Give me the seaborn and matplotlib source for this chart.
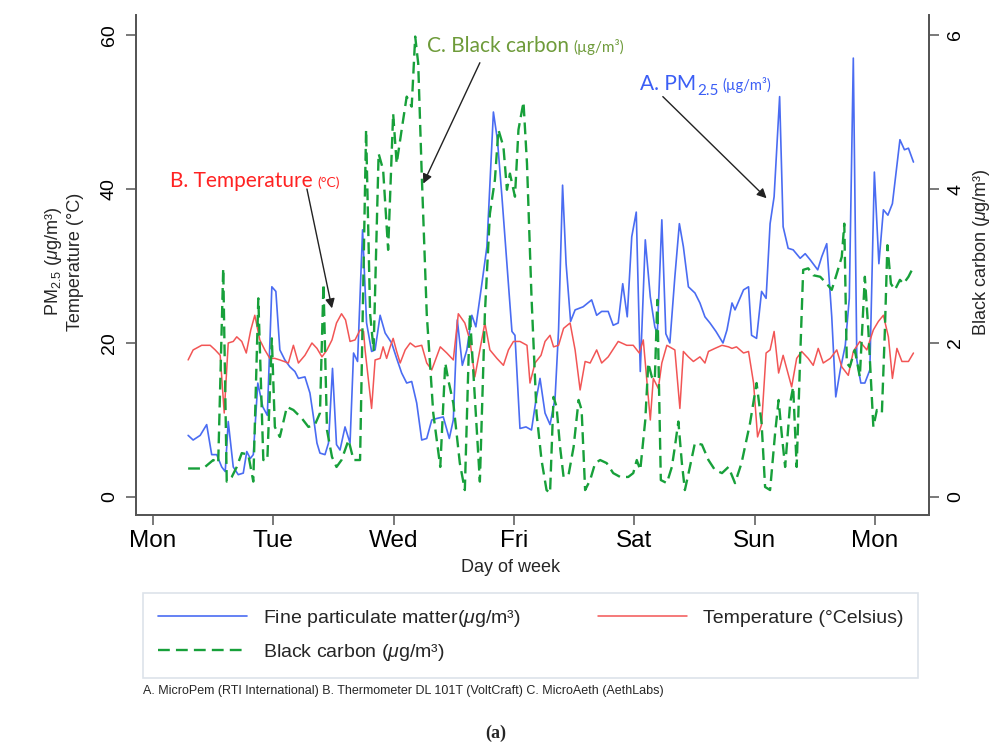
import matplotlib
matplotlib.use("Agg")
import matplotlib.pyplot as plt
import seaborn as sns
import numpy as np

# Style
sns.set_theme(style="ticks")
plt.rcParams['font.family'] = ['Liberation Sans', 'DejaVu Sans']
plt.rcParams['mathtext.fontset'] = 'custom'
plt.rcParams['mathtext.rm'] = 'Liberation Sans'
plt.rcParams['mathtext.it'] = 'Liberation Sans:italic'

# Data (hours since Monday 00:00)
day_ticks = [0, 24, 48, 72, 96, 120, 144]
day_labels = ["Mon", "Tue", "Wed", "Fri", "Sat", "Sun", "Mon"]

pm_hours = [
    7.0, 8.0, 9.4, 10.7, 11.7, 12.7, 13.7, 14.4, 15.0, 16.0,
    17.0, 18.0, 18.7, 19.4, 20.0, 20.9, 21.9, 22.8, 23.7, 24.5,
    25.3, 26.3, 27.3, 28.3, 29.0, 30.3, 31.3, 32.0, 32.7, 33.3,
    34.3, 35.0, 35.8, 36.6, 37.3, 38.3, 39.3, 40.0, 40.8, 41.8,
    42.6, 43.6, 44.3, 45.3, 46.3, 47.6, 48.6, 49.6, 50.6, 51.6,
    52.6, 53.6, 54.6, 55.6, 56.6, 57.9, 59.1, 59.9, 60.7, 61.7,
    62.6, 63.6, 64.4, 65.6, 66.6, 67.9, 68.7, 69.6, 70.6, 71.6,
    72.2, 73.2, 74.4, 75.5, 76.3, 77.2, 78.2, 79.2, 80.2, 80.9,
    81.7, 82.4, 83.3, 84.2, 85.8, 87.5, 88.5, 89.5, 90.8, 91.8,
    92.8, 93.7, 94.6, 95.5, 96.4, 97.2, 98.2, 99.2, 100.1, 100.6,
    101.5, 102.3, 103.1, 104.1, 105.0, 105.8, 106.8, 108.1, 109.1, 110.1,
    111.1, 112.3, 113.7, 114.5, 115.5, 116.1, 117.8, 118.8, 119.4, 120.4,
    121.4, 122.3, 123.1, 123.9, 125.0, 125.7, 126.7, 127.7, 129.1, 130.1,
    131.1, 132.6, 133.4, 134.4, 135.4, 136.2, 137.1, 138.1, 138.9, 139.7,
    140.4, 141.2, 142.0, 143.0, 143.9, 144.8, 145.7, 146.6, 147.5, 149.0,
    149.9, 150.7, 151.7,
]
pm_values = [
    8.0, 7.4, 8.0, 9.4, 5.5, 5.5, 3.9, 3.3, 9.8, 3.9,
    2.9, 3.1, 5.9, 5.0, 5.5, 14.8, 11.7, 10.6, 27.3, 26.7,
    19.1, 17.8, 16.9, 16.3, 15.4, 15.6, 13.5, 10.4, 7.0, 5.7,
    5.5, 7.0, 16.7, 6.8, 6.1, 9.1, 7.0, 18.7, 17.6, 34.7,
    22.6, 18.9, 19.1, 23.6, 21.3, 20.0, 18.0, 16.1, 14.8, 15.0,
    12.2, 7.4, 7.6, 10.0, 10.2, 10.4, 7.6, 10.0, 23.0, 17.1,
    19.1, 23.6, 22.1, 27.7, 32.5, 50.0, 46.4, 39.0, 30.3, 21.5,
    21.0, 8.9, 9.1, 8.7, 12.2, 15.4, 10.9, 9.4, 12.8, 21.7,
    40.5, 30.3, 22.8, 24.3, 24.7, 25.6, 23.6, 24.1, 24.1, 22.3,
    22.6, 27.7, 23.4, 33.8, 37.0, 16.3, 33.4, 26.0, 22.1, 21.2,
    36.0, 21.2, 20.0, 28.6, 35.5, 32.5, 27.3, 26.5, 25.2, 23.4,
    22.6, 21.5, 20.0, 21.7, 25.2, 24.3, 26.9, 27.3, 21.0, 20.6,
    26.7, 25.8, 35.5, 39.0, 52.0, 35.1, 32.3, 32.1, 31.0, 31.6,
    30.8, 29.5, 31.2, 32.9, 23.4, 13.0, 16.5, 19.7, 25.8, 57.0,
    17.8, 14.8, 14.8, 16.5, 42.2, 30.3, 37.3, 36.6, 38.1, 46.4,
    45.1, 45.3, 43.5,
]

temp_hours = [
    7.0, 8.0, 9.7, 11.4, 12.4, 13.4, 14.2, 15.0, 16.0, 16.7,
    17.7, 18.6, 19.5, 20.3, 21.3, 22.3, 23.3, 24.3, 25.3, 27.0,
    28.0, 29.0, 30.3, 31.7, 32.7, 33.7, 34.7, 35.7, 36.6, 37.6,
    38.4, 39.3, 40.3, 41.3, 42.0, 42.3, 43.6, 44.3, 45.3, 45.9,
    46.6, 47.3, 47.9, 48.6, 49.3, 50.3, 51.3, 52.3, 53.6, 54.6,
    55.6, 57.3, 58.6, 59.9, 60.9, 62.2, 63.2, 64.2, 65.2, 66.2,
    67.2, 68.6, 69.9, 70.9, 71.9, 73.2, 74.6, 75.2, 76.2, 77.4,
    78.2, 79.2, 79.9, 80.9, 81.9, 83.2, 84.2, 85.2, 86.2, 87.2,
    88.5, 89.5, 90.8, 92.8, 94.5, 95.8, 97.0, 97.8, 98.5, 99.2,
    99.8, 100.8, 101.5, 102.5, 104.1, 105.1, 105.8, 106.8, 107.8, 109.1,
    110.1, 110.8, 112.1, 113.5, 114.8, 115.5, 116.4, 117.8, 118.8, 119.8,
    120.6, 121.4, 122.3, 123.1, 123.9, 124.8, 125.7, 127.4, 128.4, 129.4,
    130.7, 131.7, 132.7, 133.7, 135.1, 136.4, 137.4, 138.7, 139.7, 141.0,
    142.4, 143.7, 144.7, 145.7, 146.7, 147.5, 148.4, 149.4, 150.7, 151.7,
]
temp_values = [
    17.8, 19.1, 19.7, 19.7, 19.1, 18.4, 10.9, 20.0, 20.2, 20.8,
    20.2, 18.7, 21.7, 23.6, 20.4, 19.1, 18.0, 18.0, 17.8, 17.4,
    19.7, 17.4, 18.4, 20.0, 19.3, 18.2, 19.1, 20.4, 22.6, 23.8,
    23.0, 20.2, 20.4, 21.7, 21.5, 19.1, 11.5, 17.8, 18.0, 19.5,
    18.0, 19.5, 20.6, 18.9, 17.4, 19.1, 20.0, 19.5, 19.7, 17.4,
    16.5, 19.5, 18.7, 17.8, 23.8, 22.6, 20.4, 15.6, 19.1, 22.6,
    19.1, 18.0, 17.1, 19.1, 20.2, 20.2, 19.7, 14.8, 17.4, 18.4,
    20.2, 21.0, 19.5, 19.7, 21.9, 22.6, 19.1, 13.9, 17.6, 17.4,
    19.1, 17.4, 18.2, 20.2, 19.7, 19.7, 18.7, 20.4, 15.2, 10.0,
    15.4, 14.1, 17.4, 19.7, 19.1, 11.5, 18.9, 18.2, 17.6, 18.2,
    17.4, 18.9, 19.3, 19.7, 19.5, 19.3, 19.5, 18.7, 18.9, 14.8,
    7.8, 9.4, 18.7, 19.1, 21.5, 16.1, 18.4, 14.3, 18.0, 18.9,
    18.0, 17.1, 19.3, 17.4, 18.0, 19.1, 16.9, 15.8, 18.9, 20.2,
    19.1, 21.7, 22.8, 23.6, 20.8, 15.4, 19.3, 17.6, 17.6, 18.7,
]

bc_hours = [
    7.0, 10.0, 12.0, 13.0, 14.0, 14.7, 15.7, 16.7, 17.7, 19.0,
    20.0, 21.0, 22.0, 22.8, 23.7, 24.3, 25.3, 26.7, 28.0, 29.7,
    31.0, 32.3, 33.3, 34.0, 34.7, 35.7, 36.6, 37.6, 39.0, 40.0,
    41.3, 42.5, 43.3, 44.0, 45.0, 45.9, 46.9, 47.9, 48.6, 49.6,
    50.6, 51.6, 52.3, 52.9, 53.6, 54.6, 55.9, 57.3, 58.3, 58.9,
    59.9, 61.2, 62.2, 63.2, 64.2, 65.2, 66.2, 67.2, 68.2, 68.9,
    69.9, 70.6, 71.2, 72.2, 72.9, 73.9, 74.6, 75.5, 76.5, 77.5,
    78.5, 79.2, 79.9, 80.5, 81.2, 81.9, 82.9, 83.9, 84.9, 85.5,
    86.2, 87.2, 88.2, 89.2, 90.5, 91.8, 93.2, 94.8, 95.8, 96.5,
    97.2, 98.2, 98.8, 99.5, 100.1, 100.6, 101.3, 102.5, 103.5, 104.1,
    104.8, 105.5, 106.1, 107.1, 108.1, 109.5, 110.8, 112.1, 113.5, 114.8,
    116.1, 117.4, 119.1, 120.4, 121.4, 122.1, 123.1, 124.1, 124.8, 125.4,
    126.1, 127.1, 127.7, 128.4, 129.1, 129.7, 130.7, 131.7, 133.1, 134.4,
    135.4, 136.4, 137.4, 137.9, 138.4, 139.0, 140.0, 141.0, 142.0, 142.7,
    143.7, 144.4, 145.4, 146.0, 146.5, 147.2, 148.0, 149.0, 149.7, 150.7,
    151.4,
]
bc_values = [
    0.37, 0.37, 0.48, 0.44, 2.97, 0.20, 0.26, 0.39, 0.57, 0.55,
    0.20, 2.58, 0.48, 0.48, 2.06, 0.91, 0.78, 1.17, 1.13, 1.02,
    0.91, 0.94, 1.09, 2.77, 0.87, 0.52, 0.39, 0.48, 0.74, 0.48,
    0.48, 4.77, 2.38, 1.91, 4.46, 4.25, 3.21, 4.98, 4.33, 4.77,
    5.20, 5.07, 5.98, 5.63, 4.20, 2.38, 1.09, 0.39, 1.74, 1.52,
    1.22, 0.44, 0.09, 2.38, 1.30, 0.20, 2.38, 3.68, 4.12, 4.77,
    4.55, 3.99, 4.20, 3.90, 4.77, 5.13, 4.33, 2.60, 1.09, 0.48,
    0.09, 0.05, 1.30, 1.17, 0.65, 0.26, 0.29, 0.65, 1.26, 1.13,
    0.09, 0.22, 0.44, 0.48, 0.44, 0.31, 0.26, 0.26, 0.31, 0.48,
    0.35, 1.00, 1.74, 1.56, 1.52, 2.56, 0.22, 0.18, 0.39, 0.65,
    0.98, 0.44, 0.09, 0.39, 0.70, 0.68, 0.48, 0.35, 0.31, 0.39,
    0.18, 0.44, 0.96, 1.48, 0.96, 0.13, 0.09, 0.83, 1.26, 0.83,
    0.39, 1.22, 1.43, 0.39, 1.82, 2.95, 2.97, 2.88, 2.86, 2.77,
    2.69, 2.90, 3.12, 3.55, 1.74, 1.69, 1.91, 1.56, 2.86, 2.17,
    0.91, 1.13, 1.09, 2.17, 3.27, 2.77, 2.69, 2.82, 2.77, 2.86,
    2.95,
]

BLUE = "#4a6cf2"
RED = "#f25555"
GREEN = "#17a03a"
AXC = "#555555"
W, H = 992, 747

fig = plt.figure(figsize=(W / 100, H / 100), dpi=100)
ax = fig.add_axes([136 / W, 1 - 515 / H, 793 / W, 500 / H])
ax2 = ax.twinx()

sns.lineplot(x=pm_hours, y=pm_values, ax=ax, color=BLUE, lw=1.2, legend=False)
sns.lineplot(x=temp_hours, y=temp_values, ax=ax, color=RED, lw=1.1, legend=False)
sns.lineplot(x=bc_hours, y=bc_values, ax=ax2, color=GREEN, lw=1.7,
             linestyle=(0, (5, 2.6)), legend=False)
pm_line, temp_line = ax.lines[0], ax.lines[1]
bc_line = ax2.lines[0]

ax.set_xlim(-3.4, 154.8)
ax.set_ylim(-2.34, 62.6)
ax2.set_ylim(-0.234, 6.26)
ax.set_xticks(day_ticks)
ax.set_xticklabels(day_labels)
ax.set_yticks([0, 20, 40, 60])
ax2.set_yticks([0, 2, 4, 6])
ax.set_xlabel("")
ax.set_ylabel("")
ax2.set_ylabel("")

for a in (ax, ax2):
    a.spines['top'].set_visible(False)
    for s in ('left', 'bottom', 'right'):
        a.spines[s].set_color(AXC)
        a.spines[s].set_linewidth(1.3)
    a.tick_params(direction='out', length=7, width=1.1, color=AXC,
                  labelcolor='black')
ax.tick_params(axis='x', labelsize=17.5, pad=4)
ax.tick_params(axis='y', labelsize=14, pad=6, labelrotation=90)
ax2.tick_params(axis='y', labelsize=14, pad=6, labelrotation=90)
for lab in ax.get_yticklabels() + ax2.get_yticklabels():
    lab.set_va('center')

# axis titles
fig.text(511 / W, 1 - 567 / H, "Day of week", ha='center', va='center', fontsize=13)
fig.text(54 / W, 1 - 262 / H, r"PM$_{2.5}$ ($\mathit{\mu}$g/m³)", rotation=90,
         ha='center', va='center', fontsize=13)
fig.text(75 / W, 1 - 262 / H, "Temperature (°C)", rotation=90,
         ha='center', va='center', fontsize=13)
fig.text(981 / W, 1 - 252 / H, r"Black carbon ($\mathit{\mu}$g/m³)", rotation=90,
         ha='center', va='center', fontsize=13)

# annotations
ann_font = ['Lato', 'DejaVu Sans']
arrow = dict(arrowstyle='-|>', color='#222222', lw=1.0, mutation_scale=14,
             shrinkA=0, shrinkB=0)

t_b = ax.text(3.4, 40.3, "B. Temperature", color='#ff2222', fontsize=15,
              family=ann_font, va='baseline')
ax.annotate("(°C)", xy=(1, 40.3), xycoords=(t_b, 'data'), xytext=(3, 0),
            textcoords='offset points', color='#ff2222', fontsize=10,
            family=ann_font, va='baseline')
ax.annotate("", xy=(35.7, 24.5), xytext=(30.7, 40.0), arrowprops=arrow)

t_c = ax.text(54.7, 57.8, "C. Black carbon", color='#6e9b3a', fontsize=15,
              family=ann_font, va='baseline')
ax.annotate("(µg/m³)", xy=(1, 57.8), xycoords=(t_c, 'data'), xytext=(3, 0),
            textcoords='offset points', color='#6e9b3a', fontsize=11,
            family=ann_font, va='baseline')
ax.annotate("", xy=(53.9, 40.7), xytext=(65.2, 56.4), arrowprops=arrow)

t_a = ax.text(97.2, 52.9, "A. PM", color='#3b5ef5', fontsize=15,
              family=ann_font, va='baseline')
t_a2 = ax.annotate("2.5", xy=(1, 52.9), xycoords=(t_a, 'data'), xytext=(0.5, -4),
                   textcoords='offset points', color='#3b5ef5', fontsize=11,
                   family=ann_font, va='baseline')
ax.annotate("(µg/m³)", xy=(1, 52.9), xycoords=(t_a2, 'data'), xytext=(3, 0),
            textcoords='offset points', color='#3b5ef5', fontsize=10.5,
            family=ann_font, va='baseline')
ax.annotate("", xy=(122.4, 38.8), xytext=(101.7, 52.0), arrowprops=arrow)

# legend
leg = fig.legend(
    handles=[pm_line, bc_line, temp_line],
    labels=[r"Fine particulate matter($\mathit{\mu}$g/m³)",
            r"Black carbon ($\mathit{\mu}$g/m³)",
            "Temperature (°Celsius)"],
    ncol=2, loc='upper left', mode='expand',
    bbox_to_anchor=(143 / W, 1 - 678 / H, 775 / W, 85 / H),
    borderaxespad=0,
    fontsize=14, handlelength=4.6, handletextpad=0.8, labelspacing=0.7,
    borderpad=0.75, frameon=True, fancybox=False, edgecolor='#dde3ea',
    framealpha=1)
leg.get_frame().set_linewidth(1.2)

fig.text(143 / W, 1 - 691 / H,
         "A. MicroPem (RTI International) B. Thermometer DL 101T (VoltCraft) C. MicroAeth (AethLabs)",
         ha='left', va='center', fontsize=9,
         family=['Liberation Sans Narrow', 'Liberation Sans', 'DejaVu Sans'])
fig.text(496 / W, 1 - 733 / H, "(a)", ha='center', va='center', fontsize=13,
         family=['Liberation Serif', 'DejaVu Serif'], fontweight='bold')

fig.savefig("out.png", dpi=100)
